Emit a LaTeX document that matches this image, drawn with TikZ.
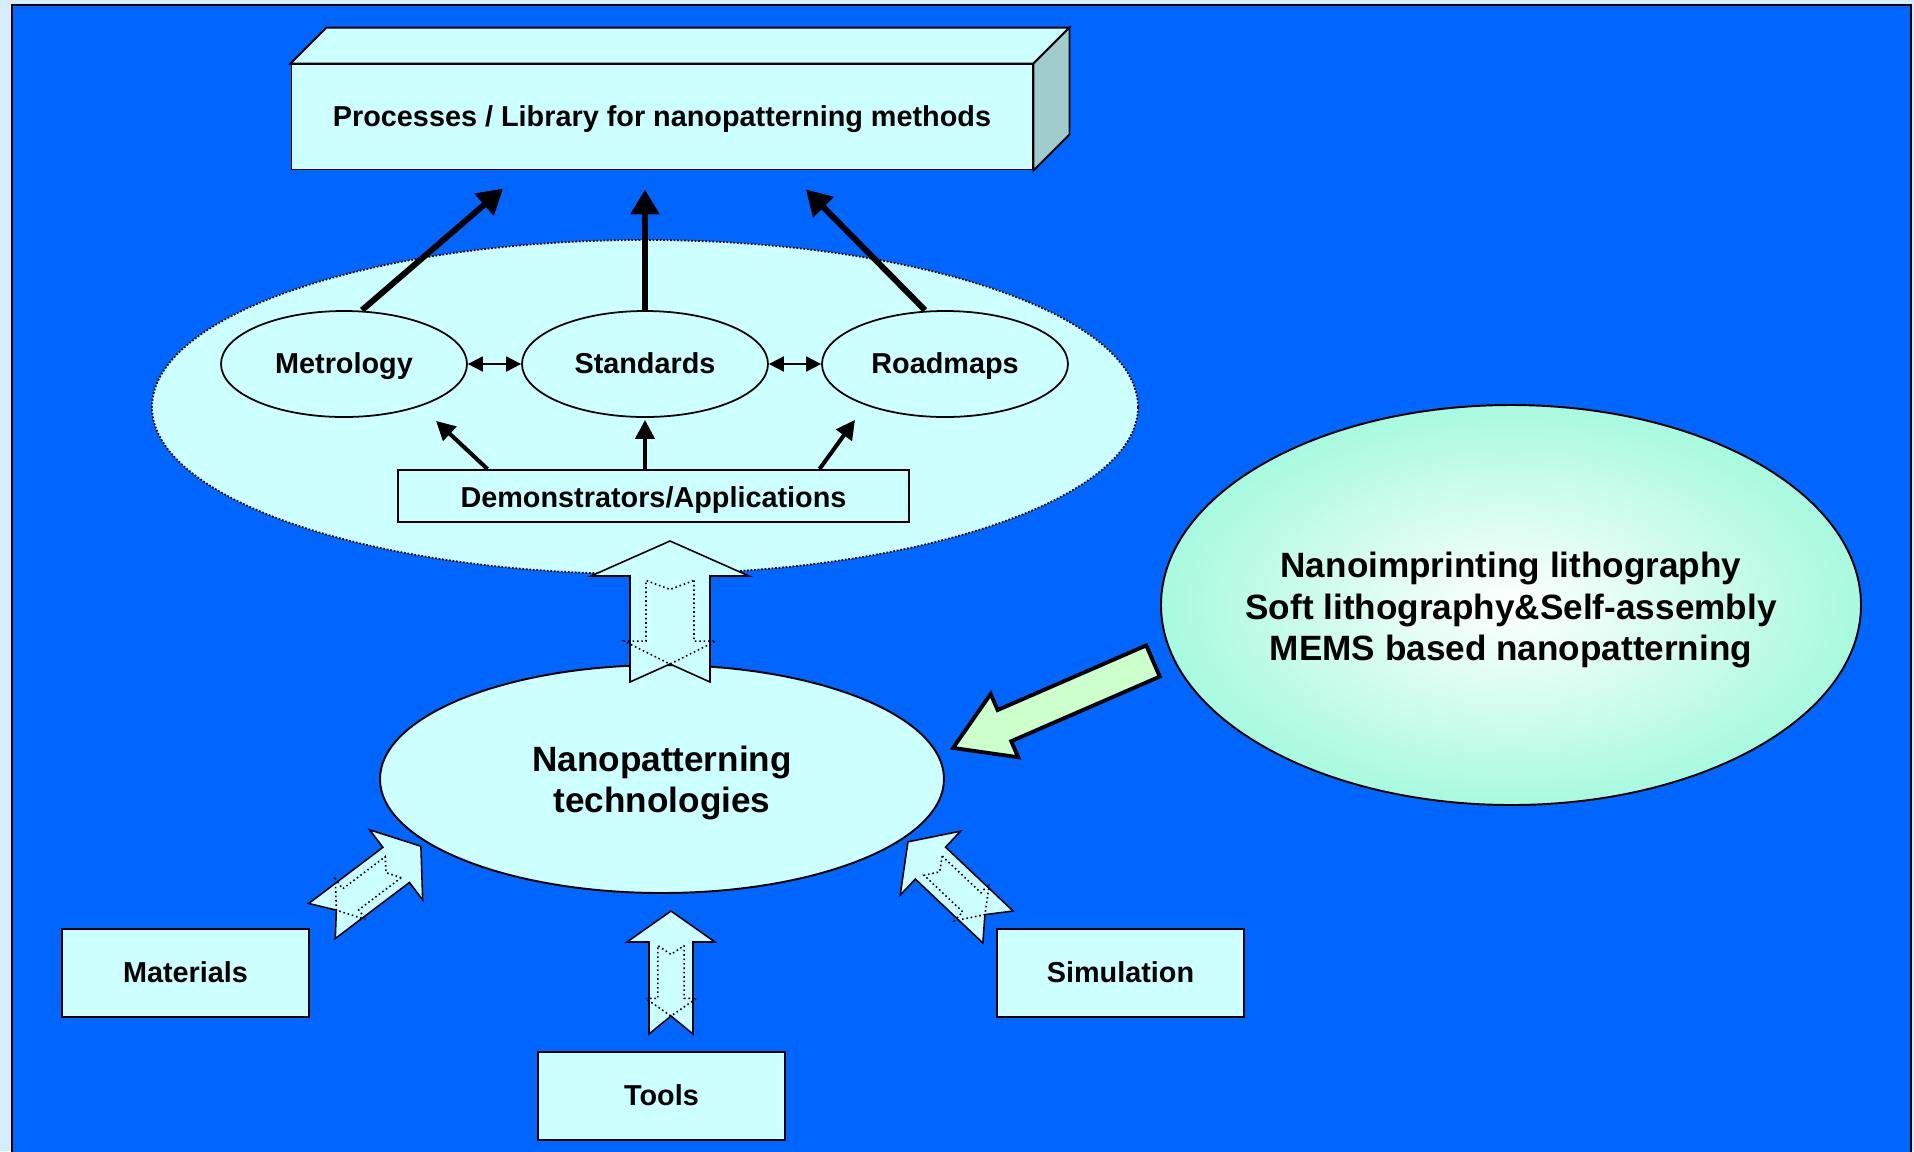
\documentclass[tikz,border=0pt]{standalone}
\usepackage{fontspec}
\setmainfont{Liberation Sans}
\usetikzlibrary{calc,shapes.geometric,arrows.meta}

\definecolor{bgblue}{RGB}{0,102,255}
\definecolor{outerbg}{RGB}{212,236,252}
\definecolor{cyanfill}{RGB}{204,255,255}
\definecolor{sidefill}{RGB}{160,204,204}
\definecolor{greenfill}{RGB}{204,255,204}
\definecolor{aquaedge}{RGB}{168,250,222}

\def\stdfont{\fontsize{16.4}{20}\selectfont\bfseries}
\def\bigfont{\fontsize{20}{23.8}\selectfont\bfseries}

\tikzset{
	stdbox/.style={draw, fill=cyanfill, line width=1.1pt, font=\stdfont, inner sep=0pt, text height=1.1em, text depth=0pt},
	smallell/.style={ellipse, draw, fill=cyanfill, line width=1pt, font=\stdfont, inner sep=0pt, text height=1.1em, text depth=0pt, minimum width=4.92cm, minimum height=2.12cm},
	bigtext/.style={font=\bigfont, align=center, inner sep=0pt},
	thickarrow/.style={line width=3.4pt, -{Triangle[length=0.5cm,width=0.56cm]}},
	thinarrow/.style={line width=2.3pt, -{Triangle[length=0.38cm,width=0.38cm]}},
	dblarrow/.style={line width=1.1pt, {Triangle[length=0.3cm,width=0.3cm]}-{Triangle[length=0.3cm,width=0.3cm]}}
}

% position, angle, length, head length, head half-width, shaft half-width
\newcommand\hollowarrow[6]{%
	\begin{scope}[shift={(#1)}, rotate=#2]
		\draw[fill=cyanfill, line width=0.9pt, line join=miter] (0,#6) -- ({#3-#4},#6) -- ({#3-#4},#5) -- (#3,0) -- ({#3-#4},-#5) -- ({#3-#4},-#6) -- (0,-#6) -- (18,0) -- cycle;
		\draw[line width=0.9pt, dash pattern=on 0.9pt off 1.6pt] ({0.72*#3},{0.6*#6}) -- ({0.29*#3},{0.6*#6}) -- ({0.29*#3},{0.58*#5}) -- (18,0) -- ({0.29*#3},{-0.58*#5}) -- ({0.29*#3},{-0.6*#6}) -- ({0.72*#3},{-0.6*#6}) -- ({0.72*#3-9},0) -- cycle;
	\end{scope}}

\begin{document}
\begin{tikzpicture}[x=0.2mm, y=-0.2mm]
		%%%%% START %%%%%
		\useasboundingbox (0,0) rectangle (1914,1151);
		\fill[outerbg] (0,0) rectangle (1914,1151);
		\draw[fill=bgblue, line width=1.2pt] (12,5) rectangle (1911,1170);
		
		% library box
		\node[stdbox, minimum width=14.82cm, minimum height=2.1cm] (procbox) at (662,117) {Processes / Library for nanopatterning methods};
		\draw[fill=cyanfill, line width=1.1pt] (procbox.north west) -- ++(36,-36) -- ($(procbox.north east)+(36,-36)$) -- (procbox.north east) -- cycle;
		\draw[fill=sidefill, line width=1.1pt] (procbox.north east) -- ++(36,-36) -- ($(procbox.south east)+(36,-36)$) -- (procbox.south east) -- cycle;
		
		% dotted panel
		\node[ellipse, draw, fill=cyanfill, line width=1pt, dash pattern=on 1pt off 1pt, minimum width=19.72cm, minimum height=6.68cm, inner sep=0pt] (panel) at (645,407) {};
		
		\node[smallell] (metrology) at (344,364) {Metrology};
		\node[smallell] (standards) at (645,364) {Standards};
		\node[smallell] (roadmaps) at (945,364) {Roadmaps};
		\node[stdbox, minimum width=10.22cm, minimum height=1.04cm, text height=1.3em] (demo) at (653.5,496) {Demonstrators/Applications};
		
		\draw[dblarrow] (metrology.east) -- (standards.west);
		\draw[dblarrow] (standards.east) -- (roadmaps.west);
		
		\draw[thickarrow] ($(metrology.north)+(18,0)$) -- ($(procbox.south)+(-159,18)$);
		\draw[thickarrow] (standards.north) -- ($(procbox.south)+(-17,19)$);
		\draw[thickarrow] ($(roadmaps.north)+(-20,0)$) -- ($(procbox.south)+(144,19)$);
		
		\draw[thinarrow] ($(demo.north)+(-166,0)$) -- ($(metrology.south)+(92,3)$);
		\draw[thinarrow] ($(demo.north)+(-8.5,0)$) -- ($(standards.south)+(0,2)$);
		\draw[thinarrow] ($(demo.north)+(166,0)$) -- ($(roadmaps.south)+(-90,2)$);
		
		% lower part
		\node[ellipse, draw, fill=cyanfill, line width=1.1pt, minimum width=11.28cm, minimum height=4.56cm, inner sep=0pt] (nanotech) at (662,779) {};
		\node[bigtext] (nanotext) at ($(nanotech.center)+(0,4)$) {Nanopatterning\\technologies};
		\node[ellipse, draw, line width=1.1pt, shading=radial, inner color=white, outer color=aquaedge, minimum width=14cm, minimum height=8cm, inner sep=0pt] (litho) at (1511,605) {};
		\node[bigtext] (lithotext) at ($(litho.center)+(0,5)$) {Nanoimprinting lithography\\Soft lithography\&Self-assembly\\MEMS based nanopatterning};
		
		\node[stdbox, minimum width=4.94cm, minimum height=1.76cm] (materials) at (185.5,973) {Materials};
		\node[stdbox, minimum width=4.94cm, minimum height=1.76cm] (tools) at (661.5,1096) {Tools};
		\node[stdbox, minimum width=4.94cm, minimum height=1.76cm] (simulation) at (1120.5,973) {Simulation};
		
		\hollowarrow{670,682}{90}{141}{35}{79}{40}
		\hollowarrow{671,1034}{90}{123}{31}{44}{22}
		\hollowarrow{322,921}{37.1}{124}{31}{44}{22}
		\hollowarrow{998,927}{136.6}{124}{31}{44}{22}
		
		\begin{scope}[shift={(1153,661)}, rotate=-156.5]
			\draw[fill=greenfill, line width=2.2pt, line join=miter] (0,17) -- (162,17) -- (162,34.5) -- (218,0) -- (162,-34.5) -- (162,-17) -- (0,-17) -- cycle;
		\end{scope}
		%%%%% END %%%%%
\end{tikzpicture}
\end{document}
